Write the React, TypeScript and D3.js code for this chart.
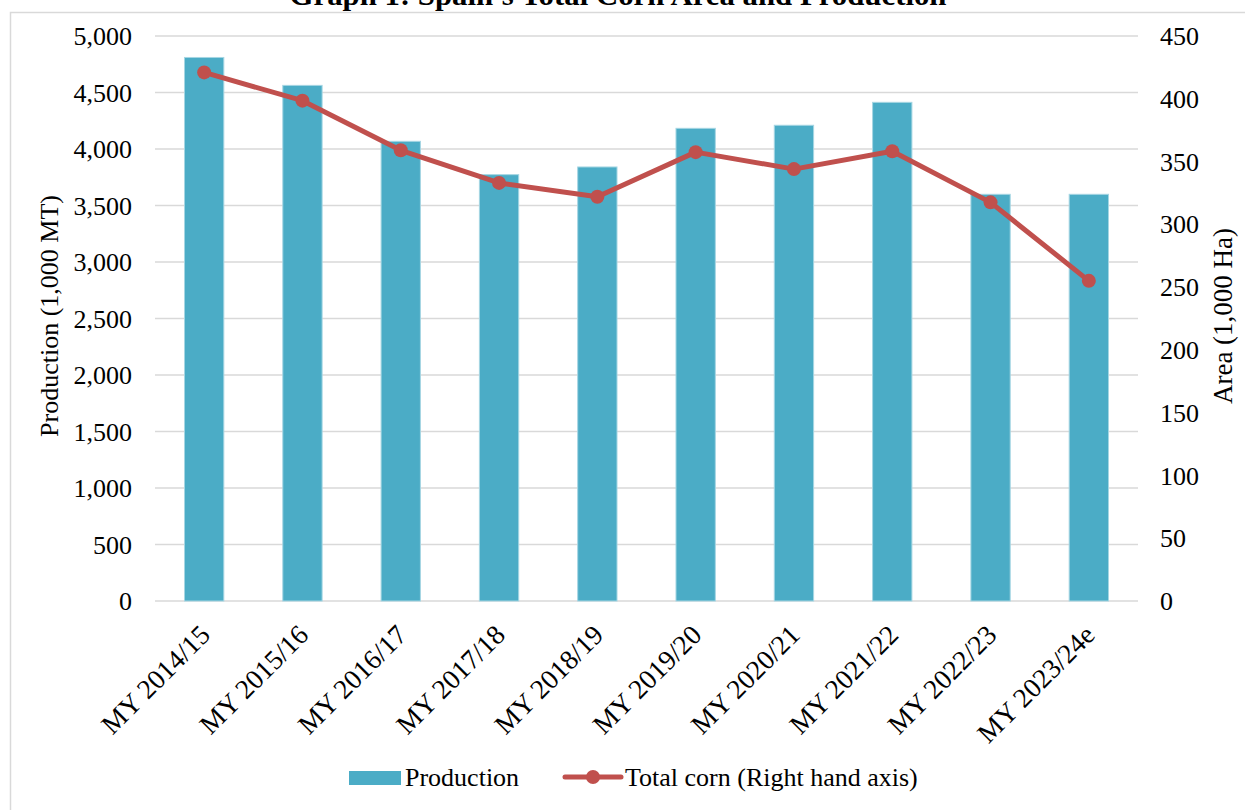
import React from 'react'
import * as d3 from 'd3'

const categories = ['MY 2014/15', 'MY 2015/16', 'MY 2016/17', 'MY 2017/18', 'MY 2018/19',
  'MY 2019/20', 'MY 2020/21', 'MY 2021/22', 'MY 2022/23', 'MY 2023/24e']
// production, 1,000 MT (left axis)
const production = [4810, 4563, 4068, 3773, 3841, 4183, 4210, 4413, 3599, 3599]
// total corn area, 1,000 Ha (right axis)
const area = [421, 398.5, 359, 333, 322, 357.5, 344, 358.2, 317.5, 255]
const leftTicks = [0, 500, 1000, 1500, 2000, 2500, 3000, 3500, 4000, 4500, 5000]
const rightTicks = [0, 50, 100, 150, 200, 250, 300, 350, 400, 450]

const W = 1245
const H = 810
const FONT = '"Liberation Serif", "Times New Roman", serif'
const BAR = '#4BACC6'
const LINE = '#C0504D'
const GRID = '#d9d9d9'

export default function App() {
  const left = 155, right = 1138, top = 36, bottom = 601

  const x = d3.scaleBand().domain(categories).range([left, right]).paddingInner(0.6).paddingOuter(0.3)
  const y = d3.scaleLinear().domain([0, 5000]).range([bottom, top])
  const y2 = d3.scaleLinear().domain([0, 450]).range([bottom, top])
  const fmt = d3.format(',')

  const line = d3.line<number>()
    .x((_, i) => x(categories[i])! + x.bandwidth() / 2)
    .y(d => y2(d))

  return (
    <svg width={W} height={H} style={{ position: 'absolute', left: 0, top: 0, background: '#fff' }}
      fontFamily={FONT}>
      {/* chart frame, runs off the right and bottom */}
      <rect x={10.5} y={12.5} width={1400} height={1000} fill='none' stroke={GRID} strokeWidth={1.5} />

      <text x={618} y={5} textAnchor='middle' fontWeight='bold' fontSize={30}
        textLength={657} lengthAdjust='spacingAndGlyphs'>
        Graph 1: Spain's Total Corn Area and Production
      </text>

      {/* grid */}
      {leftTicks.map(t => (
        <line key={t} x1={left} x2={right} y1={y(t)} y2={y(t)} stroke={GRID} strokeWidth={1.5} />
      ))}

      {/* left ticks */}
      {leftTicks.map(t => (
        <text key={t} x={132} y={y(t)} dy='0.35em' textAnchor='end' fontSize={26}>{fmt(t)}</text>
      ))}
      {/* right ticks */}
      {rightTicks.map(t => (
        <text key={t} x={1160} y={y2(t)} dy='0.35em' fontSize={26}>{t}</text>
      ))}

      {/* bars */}
      {production.map((v, i) => (
        <rect key={i} x={x(categories[i])} y={y(v)} width={x.bandwidth()} height={y(0) - y(v)}
          fill={BAR} stroke='#a6d6e3' strokeWidth={1} />
      ))}

      {/* line */}
      <path d={line(area)!} fill='none' stroke={LINE} strokeWidth={5} strokeLinejoin='round' />
      {area.map((v, i) => (
        <circle key={i} cx={x(categories[i])! + x.bandwidth() / 2} cy={y2(v)} r={7} fill={LINE} />
      ))}

      {/* category labels */}
      {categories.map(c => {
        const cx = x(c)! + x.bandwidth() / 2 - 6
        return (
          <text key={c} transform={`translate(${cx},${623}) rotate(-45)`} textAnchor='end'
            dy='0.7em' fontSize={27.5}>{c}</text>
        )
      })}

      {/* axis titles */}
      <text transform={`translate(${58},${316}) rotate(-90)`} textAnchor='middle' fontSize={26}>
        Production (1,000 MT)
      </text>
      <text transform={`translate(${1232},${316}) rotate(-90)`} textAnchor='middle' fontSize={27}>
        Area (1,000 Ha)
      </text>

      {/* legend */}
      <rect x={349} y={771} width={52} height={14} fill={BAR} />
      <text x={405} y={777} dy='0.35em' fontSize={26}>Production</text>
      <line x1={565} x2={621} y1={777} y2={777} stroke={LINE} strokeWidth={5} strokeLinecap='round' />
      <circle cx={593} cy={777} r={7} fill={LINE} />
      <text x={625} y={777} dy='0.35em' fontSize={26}>Total corn (Right hand axis)</text>
    </svg>
  )
}
